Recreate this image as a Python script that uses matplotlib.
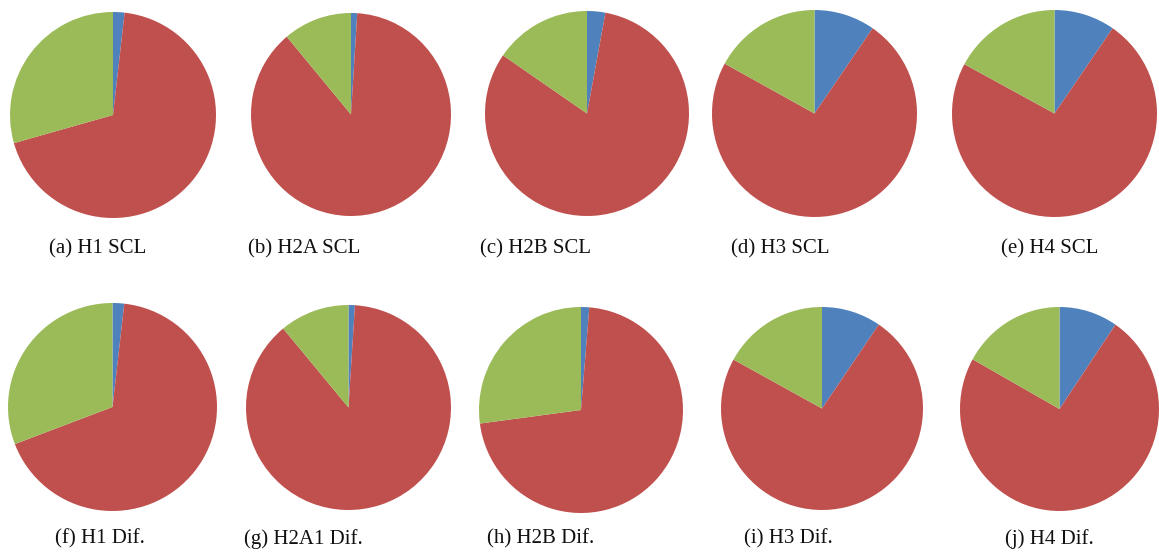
import matplotlib
matplotlib.use("Agg")
import matplotlib.pyplot as plt

# Share of each component per histone / measure (percent)
captions = ["(a) H1 SCL", "(b) H2A SCL", "(c) H2B SCL", "(d) H3 SCL", "(e) H4 SCL",
            "(f) H1 Dif.", "(g) H2A1 Dif.", "(h) H2B Dif.", "(i) H3 Dif.", "(j) H4 Dif."]
blue_share = [1.8, 1.0, 2.9, 9.6, 9.6, 1.8, 1.0, 1.3, 9.5, 9.5]
red_share = [68.8, 87.9, 81.7, 73.4, 73.3, 67.4, 88.0, 71.6, 73.5, 73.6]
green_share = [29.4, 11.1, 15.4, 17.0, 17.1, 30.8, 11.0, 27.1, 17.0, 16.9]

colors = ["#4F81BD", "#C0504D", "#9BBB59"]

W, H = 1159, 556
fig = plt.figure(figsize=(W / 100, H / 100), dpi=100)

# pixel boxes (left, right, top, bottom) for each pie
pie_boxes = [(10, 216, 12, 218), (251, 451, 13, 216), (485, 689, 11, 216),
             (712, 917, 10, 217), (952, 1157, 10, 217),
             (8, 217, 303, 511), (246, 451, 305, 510), (479, 683, 307, 513),
             (721, 923, 307, 510), (960, 1159, 307, 511)]
# caption anchor points (x, y) in pixels
caption_pos = [(98, 249), (304, 249), (536, 249), (780, 249), (1050, 249),
               (100, 539), (303, 539), (541, 539), (788, 539), (1049, 539)]

for i in range(len(captions)):
    l, r, t, b = pie_boxes[i]
    ax = fig.add_axes([l / W, 1 - b / H, (r - l) / W, (b - t) / H])
    ax.pie([blue_share[i], red_share[i], green_share[i]], colors=colors,
           startangle=90, counterclock=False, radius=1,
           wedgeprops=dict(linewidth=0))
    ax.set_xlim(-1, 1)
    ax.set_ylim(-1, 1)
    ax.set_aspect("auto")
    ax.axis("off")
    cx, cy = caption_pos[i]
    fig.text(cx / W, 1 - cy / H, captions[i], ha="center", va="center",
             fontsize=15, family="Liberation Serif", color="#111111")

fig.savefig("out.png", dpi=100)
